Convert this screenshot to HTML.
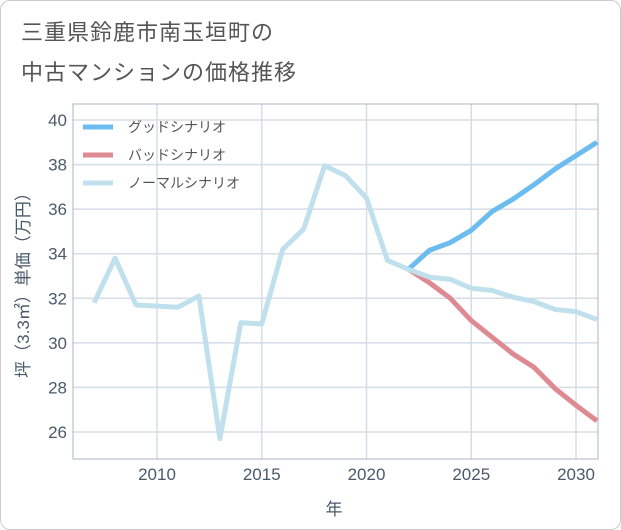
<!DOCTYPE html>
<html><head><meta charset="utf-8"><style>
body{margin:0;background:#fff;font-family:"Liberation Sans","Noto Sans CJK JP",sans-serif}
#wrap{position:relative;width:621px;height:530px;box-sizing:border-box;border:1px solid #ccc;border-radius:10px;overflow:hidden;background:#fff}
.t{position:absolute;left:20px;font-size:22px;color:#555;letter-spacing:1px}
svg text{font-family:"Liberation Sans","Noto Sans CJK JP",sans-serif}
</style></head><body>
<div id="wrap">
<div class="t" style="top:14px">三重県鈴鹿市南玉垣町の</div>
<div class="t" style="top:54px">中古マンションの価格推移</div>
<svg id="c" width="621" height="530" style="position:absolute;left:0;top:0"></svg>
</div>
<script>
const years=[2007,2008,2009,2010,2011,2012,2013,2014,2015,2016,2017,2018,2019,2020,2021,2022,2023,2024,2025,2026,2027,2028,2029,2030,2031];
const normal=[31.8,33.8,31.7,31.65,31.6,32.1,25.7,30.9,30.85,34.2,35.1,37.95,37.5,36.5,33.7,33.3,32.95,32.85,32.45,32.35,32.05,31.85,31.5,31.4,31.05];
const goodYears=[2022,2023,2024,2025,2026,2027,2028,2029,2030,2031];
const good=[33.3,34.15,34.5,35.05,35.9,36.45,37.1,37.8,38.4,39.0];
const bad=[33.3,32.7,32.0,31.0,30.25,29.5,28.9,27.95,27.2,26.5];
const xTicks=[2010,2015,2020,2025,2030];
const yTicks=[26,28,30,32,34,36,38,40];
const NS="http://www.w3.org/2000/svg",svg=document.getElementById('c');
const L=72,R=597,T=103,B=458;
const X=v=>156+(v-2010)*20.95, Y=v=>119+(40-v)*22.286;
function mk(t,a,p){const e=document.createElementNS(NS,t);for(const k in a)e.setAttribute(k,a[k]);(p||svg).appendChild(e);return e;}
const g=mk('g',{});


yTicks.forEach(v=>{
 const l=mk('line',{x1:L,x2:R,y1:Y(v),y2:Y(v),stroke:'#d5dde5','stroke-width':1.5},g);
 
 
 const t=mk('text',{x:L-6,y:Y(v)+6,'text-anchor':'end','font-size':17,fill:'#4a5a6a'});
 t.textContent=v;
 
 
});
xTicks.forEach(v=>{
 const l=mk('line',{x1:X(v),x2:X(v),y1:T,y2:B,stroke:'#d5dde5','stroke-width':1.5},g);
 
 
 const t=mk('text',{x:X(v),y:B+21,'text-anchor':'middle','font-size':17,fill:'#4a5a6a'});
 t.textContent=v;
 
 
});
const fr=mk('rect',{x:L,y:T,width:R-L,height:B-T,fill:'none',stroke:'#a8b4c0','stroke-width':1});


const clip=mk('clipPath',{id:'cp'});mk('rect',{x:L,y:T,width:R-L,height:B-T},clip);
function line(xs,ys,col,name){
 const p=mk('polyline',{points:xs.map((x,i)=>X(x)+','+Y(ys[i])).join(' '),fill:'none',stroke:col,'stroke-width':5,'stroke-linejoin':'round','clip-path':'url(#cp)'});
 
 
}
line(goodYears,good,'#6cbcf0','good-scenario-line');
line(goodYears,bad,'#de8a92','bad-scenario-line');
line(years,normal,'#bfe0ec','normal-scenario-line');
[['グッドシナリオ','#6cbcf0',126],['バッドシナリオ','#de8a92',154],['ノーマルシナリオ','#bfe0ec',182]].forEach(([n,c,y])=>{
 const ll=mk('line',{x1:82,x2:112,y1:y,y2:y,stroke:c,'stroke-width':5});
 
 
 const t=mk('text',{x:127,y:y+5,'font-size':14,fill:'#555'});
 t.textContent=n;
 
 
});
const xl=mk('text',{x:333,y:514,'text-anchor':'middle','font-size':17,fill:'#4a5a6a'});
xl.textContent='年';


const yl=mk('text',{x:0,y:0,'text-anchor':'middle','font-size':17,fill:'#4a5a6a',transform:'translate(28,280) rotate(-90)'});
yl.textContent='坪（3.3㎡）単価（万円）';


</script>
</body></html>
